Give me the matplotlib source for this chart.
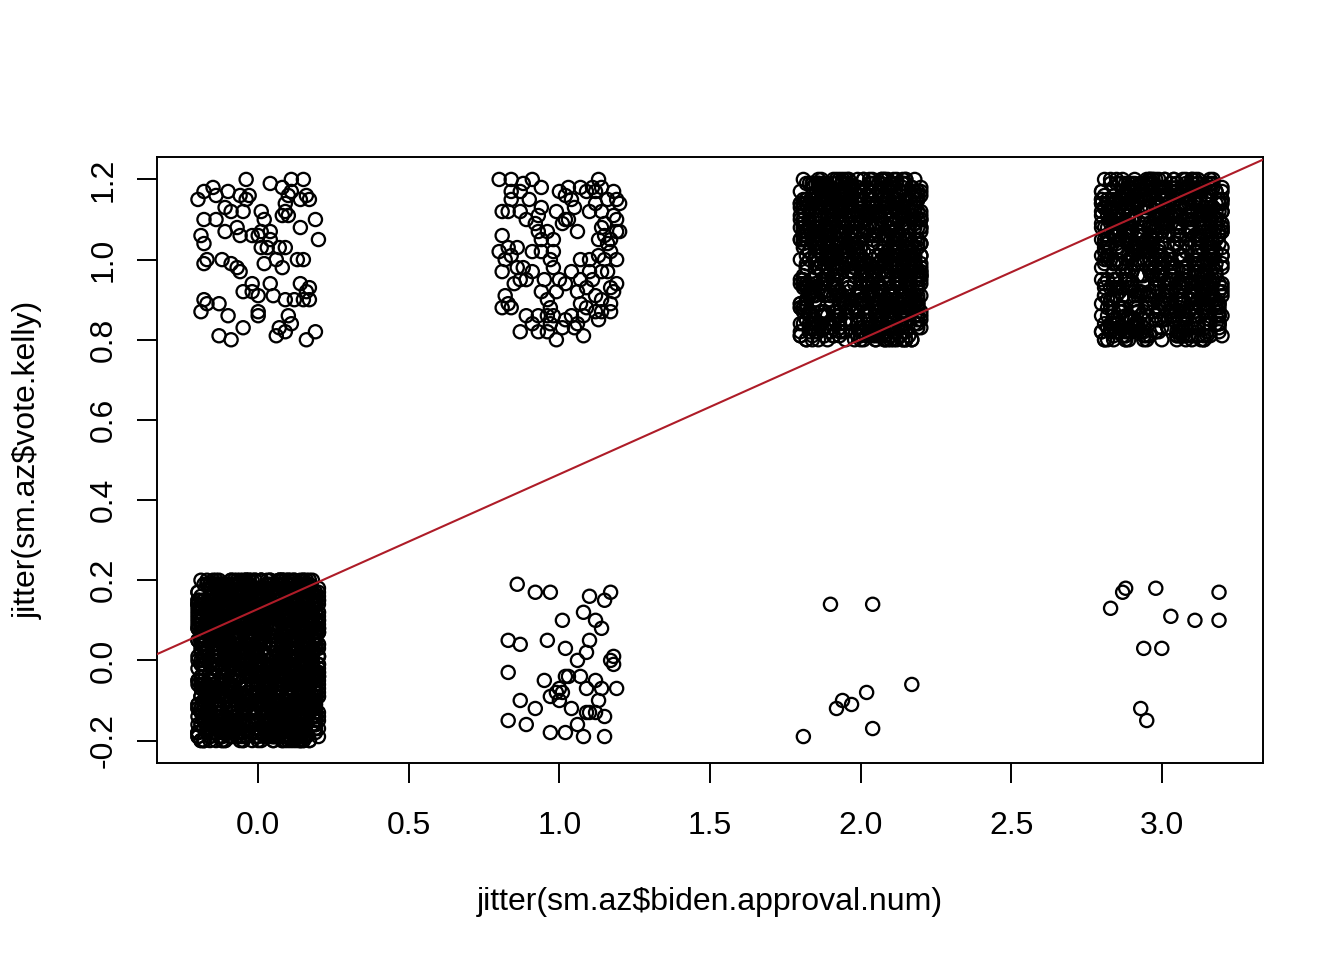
import numpy as np
import matplotlib.pyplot as plt

# ==========================================
# 1. DATA (jitter offsets in hundredths)
# ==========================================
# sparse groups: (approval, vote)
off_0_1_dx = [-4, 4, 11, 15, 8, 11, -15, -10, -18, -20, -14, -6, -3, -4, 10, 14, 16, 17, 9, 9,
              -11, -9, -5, 1, 2, 8, 10, 19, -18, -14, -11, -7, -6, -2, 1, 0, 4, 4, 14, 20,
              -19, -18, 1, 3, 7, 9, -17, -18, -12, -9, -7, -6, 2, 6, 8, 13, 15, -2, 4, -5,
              -2, 0, 5, 9, 12, 14, 17, 16, 17, 15, -18, -17, -13, -19, -10, 0, 0, 10, 11, 7,
              6, 9, -13, -9, -5, 16, 19]
off_0_1_dy = [20, 19, 20, 20, 18, 17, 18, 17, 17, 15, 16, 16, 16, 15, 16, 15, 16, 15, 14, 12,
              13, 12, 12, 12, 10, 11, 11, 10, 10, 10, 7, 8, 6, 6, 7, 6, 7, 5, 8, 5,
              6, 4, 3, 3, 3, 3, 0, -1, 0, -1, -2, -3, -1, 0, -2, 0, 0, -6, -6, -8,
              -8, -9, -9, -10, -10, -6, -7, -8, -10, -10, -10, -11, -11, -13, -14, -13, -14, -14, -16, -17,
              -19, -18, -19, -20, -17, -20, -18]

off_1_1_dx = [-20, -16, -9, -6, -12, -13, -16, -16, -13, -19, -17, -11, -7, -6, -1, 3, 7, 2, 5, 2,
              6, 1, 3, 13, 11, 9, 12, 14, 18, 19, 16, 20, 12, 14, 18, 19, 14, 20, -7, -4,
              -6, -2, -9, -6, -3, -2, -19, -20, -17, -14, -16, -18, -19, -14, -12, -9, -11, -13, -2, 0,
              -5, -6, -4, -1, 4, 7, 10, 13, 15, 19, 14, 10, 7, 6, 9, 12, 17, 19, 18, 17,
              14, 7, 9, 12, 14, 17, 13, -18, -17, -19, -16, -11, -9, -7, -4, -3, -2, 1, 2, 4,
              8, 6, 8, -4, -1, -7, -13, 16, 17, 13, 15, 17, 19, -10, 4, 10, -3, 2, 11, 16,
              -15, 15, 5, -8, 0]
off_1_1_dy = [20, 20, 20, 18, 19, 17, 17, 15, 12, 12, 12, 10, 11, 13, 12, 18, 18, 16, 13, 10,
              7, 9, 10, 20, 18, 17, 17, 18, 17, 15, 15, 14, 14, 12, 11, 10, 8, 7, 7, 7,
              5, 5, 2, 2, 0, 2, 6, 2, 3, 3, 1, 0, -3, -2, -2, -3, -5, -5, -2, -5,
              -5, -8, -10, -8, -3, 0, 0, 1, 0, 0, -3, -3, -5, -8, -7, -9, -7, -6, -8, -11,
              -10, -11, -12, -13, -13, -13, -15, -9, -11, -12, -12, -14, -16, -14, -14, -16, -14, -17, -15, -14,
              -14, -16, -19, -18, -20, -18, -18, 4, 5, 5, 6, 2, 7, 15, 15, 12, -12, -6, -5, -3,
              -6, 9, -17, 9, 17]

off_1_0_dx = [-14, -8, -3, 10, 15, 17, 8, 1, 12, 14, -17, -13, -4, 2, 10, 9, 6, 18, 18, -17,
              -5, 3, 7, 12, 14, 9, 19, 0, 1, -3, 0, 13, -13, -8, 4, 9, 12, 15, -17, -11,
              6, -3, 2, 8, 15, 2, -1, 10, 17]
off_1_0_dy = [19, 17, 17, 16, 15, 17, 12, 10, 10, 8, 5, 4, 5, 3, 5, 2, 0, 1, -1, -3,
              -5, -4, -4, -5, -7, -7, -7, -7, -8, -9, -10, -10, -10, -12, -12, -13, -13, -14, -15, -16,
              -16, -18, -18, -19, -19, -4, -8, -13, 0]

off_2_0_dx = [-10, 4, 17, 2, -6, -8, -3, -19, 4]
off_2_0_dy = [14, 14, -6, -8, -10, -12, -11, -19, -17]

off_3_0_dx = [-12, -13, -17, -2, 19, 3, 11, 19, -6, 0, -7, -5]
off_3_0_dy = [18, 17, 13, 18, 17, 11, 10, 10, 3, 3, -12, -15]

# dense groups: too packed to read, so one estimated fill is shared
dense_dx = [
    -17, 5, 12, -3, 19, -9, 0, 8, -14, 15, -6, 3, -20, 10, -1, 17, -11, 6, -5, 13,
    2, -18, 9, -8, 16, -2, 20, -13, 4, -15, 11, -7, 14, 1, -19, 7, -4, 18, -10, -12,
    3, 16, -9, -16, 8, -1, 12, -20, 5, 19, -6, 0, -13, 10, -4, 15, -18, 6, 13, -11,
    -7, 20, -2, 9, -15, 1, 17, -10, 4, -19, 14, -5, 7, -14, 18, -3, 11, -8, 2, -17,
    11, -12, 6, -19, 0, 14, -4, 19, -8, 3, -16, 9, -1, 16, -10, 5, -20, 12, -6, 8,
    -3, 18, -14, 7, -9, 13, 2, -17, 10, -5, 20, -11, 4, -2, 15, -15, 1, -7, 17, -13,
    9, -6, 15, -18, 12, -1, 6, -12, 19, -9, 0, 14, -16, 3, -4, 11, -19, 8, -8, 16,
    -10, 4, -15, 18, -2, 10, -20, 7, -7, 13, 1, -13, 17, -5, 5, -17, 20, -3, 12, 0,
    14, -8, 2, -11, 19, 6, -16, 11, -1, -19, 8, 16, -6, 3, -14, 13, -9, 18, -4, 9,
    -12, 1, 17, -7, 5, -18, 12, -3, 15, -10, 7, -15, 20, -1, 10, -20, 4, -6, 16, -13,
    6, -16, 10, -2, 18, -12, 0, 13, -7, 4, -19, 17, -9, 8, -4, 15, -14, 2, 19, -11,
    -5, 12, -18, 9, -1, 16, -13, 5, 20, -8, 1, -15, 11, -10, 14, -3, 7, -17, 3, -20,
    15, -9, 4, -14, 11, 19, -4, 0, -17, 8, 13, -6, -11, 17, -1, 6, -19, 10, -7, 2,
    -15, 7, -3, 14, -10, 1, 18, -20, 9, -5, 16, -12, 3, -16, 12, -8, 20, -2, 5, -18,
    10, -1, 19, -13, 6, -7, 13, -17, 2, 15, -4, 8, -19, 17, -11, 0, 11, -9, -14, 4,
    -19, 13, -6, 3, -12, 17, -2, 9, -16, 5, 20, -10, 1, -8, 14, -14, 7, -4, 18, -1,
    8, -20, 14, -5, 0, 11, -15, 16, -9, 2, -3, 19, -12, 6, -18, 12, -7, 4, 15, -10,
    -2, 17, -11, 10, -17, 4, 7, -6, 18, -13, 12, -1, 15, -19, 3, -8, 9, 20, -15, 1,
    16, -4, 5, -18, 13, -10, 20, -14, 1, 10, -7, -2, 12, -16, 7, 18, -5, -12, 3, -9,
    -13, 9, 0, 15, -6, -19, 6, 12, -3, 19, -11, 14, 2, -15, 11, -20, 16, -8, 5, -4,
    4, -10, 18, -7, 12, -3, -16, 8, 15, -12, 1, 20, -9, 6, -18, 10, -1, 14, -14, 17,
    -8, 14, -19, 2, 9, -4, 16, -11, 5, -17, 11, 0, -6, 19, -13, 7, -2, 13, -20, 3,
    12, -15, 7, -1, 20, -8, 3, -13, 17, -5, 9, -18, 14, -3, 1, 16, -10, 6, -16, 10,
    -1, 11, -17, 19, -6, 5, -12, 15, -19, 8, -2, 13, -9, 4, -15, 18, 0, -11, 9, -5,
    17, -3, 8, -14, 3, -20, 13, -7, 10, -1, 16, -16, 6, -10, 19, -4, 12, -13, 1, -8,
    -11, 19, -5, 6, -18, 15, -9, 1, 12, -15, 4, -7, 17, -12, 8, -2, 20, -17, 14, 0,
    5, -13, 16, -10, 11, 2, -19, 9, -4, 14, -16, 7, -1, 18, -8, 3, -14, 15, -6, 12,
    -16, 6, -2, 13, -12, 20, -7, 3, -18, 10, 0, 17, -13, 1, -5, 11, -20, 8, -9, 16,
    13, -7, 20, -4, 7, -14, 10, -1, 16, -19, 5, -9, 12, -15, 2, 19, -6, 9, -11, -3,
    -4, 15, -12, 0, 18, -9, 4, -16, 11, -6, 14, -2, 8, -20, 17, -10, 3, -17, 10, 6,
    19, -1, 10, -15, 1, -11, 16, -6, 7, -18, 13, -3, 20, -12, 5, -7, 14, -19, 0, 9,
    -9, 8, -20, 12, -5, 17, -13, 4, -2, 15, -17, 10, -8, 1, 18, -14, 6, -1, 11, -16,
    1, -14, 13, -8, 16, -4, 9, -19, 20, -11, 3, -6, 15, -17, 7, 0, -12, 17, -3, 12,
    -18, 10, -6, 18, -1, 8, -15, 14, -10, 2, 19, -13, 5, -4, 11, -9, 16, -2, 7, -7,
    7, -17, 3, -9, 14, -14, 19, -5, 0, 12, -20, 6, -11, 16, -3, 9, -16, 1, 18, -12,
    -14, 16, -8, 5, -20, 11, -3, 17, -12, 7, -1, 13, -18, 10, 2, -6, 15, -10, 4, 20,
    18, -5, 11, -16, 4, 0, -10, 14, -7, 19, -13, 8, -2, 12, -19, 5, -8, 16, -15, 1,
    -6, 13, -19, 1, 15, -12, 8, -4, 20, -9, 6, -16, 10, -1, 17, -11, 3, -14, 12, -3,
    0, -11, 15, -20, 9, -6, 18, -2, 12, -14, 4, 16, -8, 2, -17, 13, -5, 10, -12, 19,
    -20, 3, -7, 17, -16, 14, -1, 6, -13, 11, -9, 19, -3, 7, -10, 20, -18, 2, 8, -2,
]
dense_dy = [
    12, -18, 3, 7, -11, 19, -4, -15, 9, 0, 16, -8, 5, -20, 14, -2, 10, -13, 18, -6,
    -9, 6, -17, 15, -1, 11, -14, 2, 20, -7, -12, 17, -3, 8, 13, -19, 4, -10, 1, 16,
    19, -5, 10, -20, 14, -12, 6, 17, -8, -16, 2, 12, -1, -19, 9, -4, 15, -11, -7, 4,
    -14, 8, -2, 18, -18, 0, 13, -6, 11, 3, -10, 20, -15, 5, -3, 16, -9, 7, -17, 10,
    2, 15, -19, -7, 9, -13, 20, 4, -4, 13, -16, 8, 18, -10, 0, -20, 11, -1, 6, -12,
    17, -11, 7, -3, 16, 5, -17, 10, -9, 19, 1, -14, 14, -6, -18, 3, 12, -8, -2, 20,
    -4, 13, -16, 1, -10, 18, 9, -19, 15, -1, 7, -12, -5, 11, 20, -15, 4, 16, -13, 0,
    10, -2, 19, -14, 6, -8, 14, 0, -18, 12, -6, 17, 3, -11, 8, -16, 18, -3, 5, -20,
    -17, 4, 11, 16, -12, 1, -7, 20, -1, 8, -20, 13, -9, 15, 2, -4, -15, 9, 19, -10,
    7, -15, 0, -9, 18, 14, -3, 5, -13, 17, -19, 10, -6, 1, 12, -11, 6, -18, 3, 15,
    -12, 18, -6, 10, 2, -19, 16, -10, 7, -2, 13, 4, -17, 19, -8, 9, -1, 14, -14, 0,
    15, 1, -20, 8, -5, 12, -13, 19, 3, -16, 6, -9, 17, -3, -11, 20, -7, 11, -1, -18,
    -3, 11, 17, -12, 4, -8, 20, -17, 9, -5, 14, 0, -14, 7, 18, -10, 2, -19, 13, -6,
    20, -7, 5, -1, -15, 16, -11, 12, -19, 2, 9, -4, 18, -13, 6, -8, 15, 0, -16, 11,
    -10, 3, 14, -17, 8, 19, -5, -12, 1, 16, -9, 10, -20, 4, 13, -2, -14, 17, 7, -7,
    5, -20, 12, -4, 17, -9, 0, 15, -14, 9, -1, 19, -11, 6, -6, 14, -18, 3, 10, -15,
    -19, 9, -8, 13, -2, 6, -16, 18, 11, -11, 4, -6, 16, -18, 1, 12, -4, 20, -12, 8,
    14, -12, 1, 19, -7, -3, 10, -15, 17, 5, -19, 8, -1, 13, -13, 3, 18, -9, -5, 16,
    -6, 16, -13, 4, 11, -18, 7, 2, -10, 20, -4, 14, -16, 9, -2, 17, -12, 6, 0, -9,
    9, -1, 18, -11, -17, 13, 3, -6, 16, -14, 11, -20, 7, 0, 15, -5, 10, -16, 19, 2,
    -15, 12, -4, 6, 20, -10, 15, -2, 4, -18, 17, 1, -8, 11, -14, 18, -3, 8, -12, 13,
    3, -16, 16, -8, 10, 0, -13, 19, -5, 7, -1, 15, -19, 12, 5, -11, 20, -7, 14, -3,
    18, 6, -10, 2, -19, 14, -6, 9, 20, -12, 3, -17, 11, -4, 16, -9, 1, 13, -15, 7,
    -8, -3, 13, -16, 15, 4, -20, 11, -9, 18, -6, 8, 2, -14, 10, -1, 17, -18, 5, 12,
    1, 20, -14, 10, -5, 17, 8, -18, 13, -3, 19, -10, 6, -7, -16, 15, 0, -12, 9, 3,
    -20, 7, 15, -6, 3, -12, 18, 0, -17, 11, -2, 16, -9, 14, 4, -15, 8, 19, -4, -11,
    11, -9, 2, 17, -13, 9, -1, 14, 6, -19, 13, -5, 20, -10, 7, -2, -17, 12, 16, -8,
    -1, 14, -18, 5, 12, -7, 19, -14, 8, 1, -11, 18, -3, 10, -20, 6, 15, -6, 2, 17,
    16, -4, 9, -19, 1, 15, -8, 6, -15, 13, 4, -12, 19, -1, 11, -17, 3, 10, -7, -13,
    -11, 19, -2, 8, -16, 2, 12, -9, 17, -4, 7, -18, 10, 15, -6, 0, -13, 20, -10, 5,
    6, -13, 20, -15, 9, -5, 3, 16, -11, 0, 18, -8, 14, -2, -19, 7, 12, -16, 1, 11,
    -16, 2, 8, 14, -9, 19, -12, 4, -6, 15, -17, 10, -1, 18, 5, -13, 9, -4, 17, -19,
    13, -8, -14, 0, 18, -2, 7, -20, 12, 6, -10, 19, -7, 3, 16, -15, -5, 11, 8, -1,
    -5, 17, 4, -12, 10, -17, 15, 9, -3, -8, 14, 2, -19, 8, -11, 13, 20, -14, 0, 6,
    20, -10, 11, 3, -7, 7, -18, 13, 0, 17, -14, 5, 9, -16, 19, -3, 6, -9, 14, -20,
    -7, 5, -17, 16, 1, -14, 9, -5, 19, -13, 2, 12, -10, 17, -1, 8, -19, 4, 11, 15,
    8, -19, 14, -3, -12, 11, 1, 18, -16, 10, -7, 20, -2, 6, -9, 15, -13, 3, -18, 9,
    -13, 10, 0, 20, -6, 5, -15, 13, 7, -10, 16, -1, 12, -18, 3, 18, -8, 14, -4, 1,
    4, 18, -9, -2, 15, -20, 10, -7, 2, 19, -15, 7, -12, 16, 0, -5, 13, -17, 9, -14,
    -18, 0, 16, -10, 7, 13, -3, 11, -19, 4, 20, -13, 1, -6, 17, -8, 5, 12, -15, 18,
]

# lm(vote.kelly ~ biden.approval.num) line
fit_intercept = 0.1285
fit_slope = 0.336

# ==========================================
# 2. BUILD POINTS
# ==========================================
# the dense blobs use the fill twice, second time with the two offset lists swapped
fill_a = (dense_dx, dense_dy)
fill_b = (dense_dy, dense_dx)

groups = [
    (0, 0, fill_a[0] + fill_b[0], fill_a[1] + fill_b[1]),
    (0, 1, off_0_1_dx, off_0_1_dy),
    (1, 0, off_1_0_dx, off_1_0_dy),
    (1, 1, off_1_1_dx, off_1_1_dy),
    (2, 0, off_2_0_dx, off_2_0_dy),
    (2, 1, fill_b[0] + fill_a[0][:200], fill_b[1] + fill_a[1][:200]),
    (3, 0, off_3_0_dx, off_3_0_dy),
    (3, 1, fill_a[0] + fill_b[0][400:460], fill_a[1] + fill_b[1][400:460]),
]
xs = np.concatenate([bx + np.array(dx) / 100 for bx, by, dx, dy in groups])
ys = np.concatenate([by + np.array(dy) / 100 for bx, by, dx, dy in groups])

# ==========================================
# 3. PLOT (base-R look)
# ==========================================
plt.rcParams['font.family'] = ['Liberation Sans', 'DejaVu Sans']

fig = plt.figure(figsize=(13.44, 9.6), dpi=100)
ax = fig.add_axes([157 / 1344, 1 - 763 / 960, 1106 / 1344, 606 / 960])

ax.scatter(xs, ys, s=90, facecolors='none', edgecolors='black', linewidths=1.65, zorder=2)
ax.axline((0, fit_intercept), slope=fit_slope, color='#AE1C28', lw=1.5, zorder=3)

# R pads the data range by 4%
xpad = 0.04 * (xs.max() - xs.min())
ypad = 0.04 * (ys.max() - ys.min())
ax.set_xlim(xs.min() - xpad, xs.max() + xpad)
ax.set_ylim(ys.min() - ypad, ys.max() + ypad)

xticks = [0.0, 0.5, 1.0, 1.5, 2.0, 2.5, 3.0]
yticks = [-0.2, 0.0, 0.2, 0.4, 0.6, 0.8, 1.0, 1.2]
ax.set_xticks(xticks)
ax.set_xticklabels([f"{t:.1f}" for t in xticks], fontsize=23)
ax.set_yticks(yticks)
ax.set_yticklabels([f"{t:.1f}" for t in yticks], fontsize=23, rotation=90, va='center', ha='right')

ax.tick_params(axis='x', length=14.4, width=1.4, pad=20)
ax.tick_params(axis='y', length=14.4, width=1.4, pad=13)
for sp in ax.spines.values():
    sp.set_linewidth(1.4)

fig.text(710 / 1344, 1 - 902 / 960, "jitter(sm.az\\$biden.approval.num)", fontsize=23,
         ha='center', va='center')
fig.text(28 / 1344, 1 - 460 / 960, "jitter(sm.az\\$vote.kelly)", fontsize=23,
         ha='center', va='center', rotation=90)

fig.savefig("out.png", dpi=100)
